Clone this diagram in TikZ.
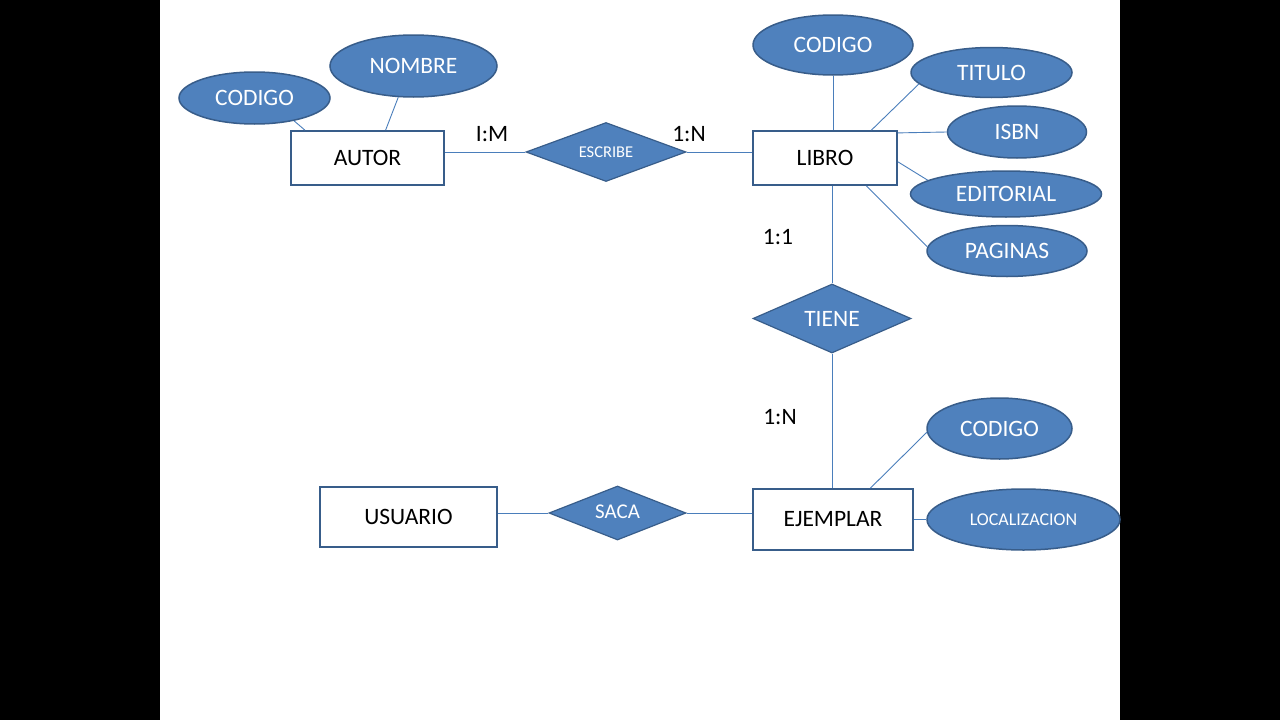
\documentclass[tikz,border=0pt]{standalone}
\usepackage{fontspec}
\setmainfont{Carlito}
\usetikzlibrary{shapes.geometric}
\definecolor{attrfill}{HTML}{4F81BD}
\definecolor{attrline}{HTML}{385D8A}
\definecolor{conn}{HTML}{4A7EBB}
\tikzset{
  entity/.style={draw=attrline, line width=1.8pt, fill=white, rectangle, inner sep=0pt,
    font=\fontsize{23.5}{28}\selectfont},
  attr/.style={ellipse, draw=attrline, line width=1.5pt, fill=attrfill, text=white, inner sep=0pt,
    font=\fontsize{23.5}{28}\selectfont},
  rel/.style={diamond, draw=attrline, line width=1.2pt, fill=attrfill, text=white, inner sep=0pt, aspect=2.5,
    font=\fontsize{23.5}{28}\selectfont},
  conn/.style={draw=conn, line width=0.9pt},
  card/.style={font=\fontsize{23.5}{28}\selectfont, inner sep=0pt}
}
\begin{document}
\begin{tikzpicture}[x=1pt,y=-1pt]
\fill[black] (0,0) rectangle (1280,720);
\fill[white] (160,0) rectangle (1120,720);
\useasboundingbox (0,0) rectangle (1280,720);

% entities
\node[entity, minimum width=153pt, minimum height=54pt] (autor) at (367.5,158) {AUTOR};
\node[entity, minimum width=144pt, minimum height=54pt] (libro) at (825,158) {LIBRO};
\node[entity, minimum width=160pt, minimum height=61pt] (ejemplar) at (833,519.5) {EJEMPLAR};
\node[entity, minimum width=177pt, minimum height=60pt] (usuario) at (408.5,517) {USUARIO};

% attributes
\node[attr, minimum width=151pt, minimum height=52pt] (codA) at (254.5,98) {CODIGO};
\node[attr, minimum width=167pt, minimum height=62pt] (nombre) at (413.5,66) {NOMBRE};
\node[attr, minimum width=160pt, minimum height=60pt] (codL) at (833,45) {CODIGO};
\node[attr, minimum width=161pt, minimum height=50pt] (titulo) at (991.5,72.5) {TITULO};
\node[attr, minimum width=139pt, minimum height=52pt] (isbn) at (1017,132) {ISBN};
\node[attr, minimum width=191pt, minimum height=46pt] (editorial) at (1006,194) {EDITORIAL};
\node[attr, minimum width=160pt, minimum height=51pt] (paginas) at (1007,251) {PAGINAS};
\node[attr, minimum width=145pt, minimum height=61pt] (codE) at (999.5,428.5) {CODIGO};
\node[attr, minimum width=193pt, minimum height=61pt, font=\fontsize{18}{22}\selectfont] (loc) at (1023.5,519.5) {LOCALIZACION};

% relationships
\node[rel, minimum width=160pt, minimum height=59pt, font=\fontsize{16.5}{20}\selectfont] (escribe) at (606,152) {ESCRIBE};
\node[rel, minimum width=158pt, minimum height=69pt] (tiene) at (832,318.5) {TIENE};
\node[rel, minimum width=137pt, minimum height=54pt, font=\fontsize{21}{25}\selectfont] (saca) at (617.5,513) {\raisebox{2pt}{SACA}};

% connectors
\draw[conn] (codA.-30) -- (autor.156);
\draw[conn] (nombre.244) -- (autor.57);
\draw[conn] (escribe.west) -- (escribe.west -| autor.east);
\draw[conn] (escribe.east) -- (escribe.east -| libro.west);
\draw[conn] (codL.south) -- (codL.south |- libro.north);
\draw[conn] (titulo.189) -- (libro.31.5);
\draw[conn] (isbn.west) -- (libro.19);
\draw[conn] (editorial.170) -- (libro.-3);
\draw[conn] (paginas.177) -- (libro.-34);
\draw[conn] (tiene.north |- libro.south) -- (tiene.north);
\draw[conn] (tiene.south) -- (tiene.south |- ejemplar.north);
\draw[conn] (codE.183) -- (ejemplar.40);
\draw[conn] (ejemplar.east) -- (loc.west);
\draw[conn] (saca.west -| usuario.east) -- (saca.west);
\draw[conn] (saca.east) -- (saca.east -| ejemplar.west);

% cardinalities
\node[card] (cIM) at (492,134) {I:M};
\node[card] (c1N) at (689,134) {1:N};
\node[card] (c11) at (778,237) {1:1};
\node[card] (c1N2) at (780,417) {1:N};
\end{tikzpicture}
\end{document}
